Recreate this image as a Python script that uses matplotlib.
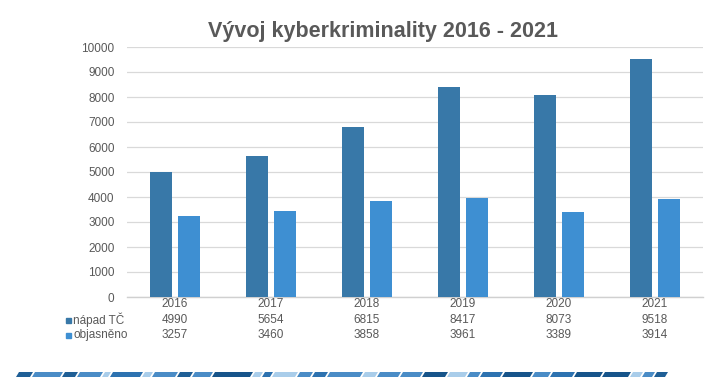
import matplotlib
matplotlib.use("Agg")
import matplotlib.pyplot as plt
from matplotlib.patches import Polygon
import numpy as np

plt.rcParams['font.family'] = ['Liberation Sans', 'DejaVu Sans']

title = "Vývoj kyberkriminality 2016 - 2021"
years = ["2016", "2017", "2018", "2019", "2020", "2021"]
napad = [4990, 5654, 6815, 8417, 8073, 9518]
objasneno = [3257, 3460, 3858, 3961, 3389, 3914]
series_names = ["nápad TČ", "objasněno"]
colors = ["#3878a8", "#3e8fd2"]
text_color = "#595959"

W, H = 720, 391
fig = plt.figure(figsize=(W / 100, H / 100), dpi=100)
fig.patch.set_facecolor("white")

def fx(px):
    return px / W

def fy(py):
    return 1 - py / H

ax_l, ax_r, ax_t, ax_b = 127, 703, 47, 297
ax = fig.add_axes([fx(ax_l), fy(ax_b), (ax_r - ax_l) / W, (ax_b - ax_t) / H])

x = np.arange(len(years))
bw = 0.225
gap = 0.065
ax.bar(x - (bw + gap) / 2, napad, width=bw, color=colors[0], zorder=3)
ax.bar(x + (bw + gap) / 2, objasneno, width=bw, color=colors[1], zorder=3)

ax.set_xlim(-0.5, len(years) - 0.5)
ax.set_ylim(0, 10000)
ax.set_yticks(range(0, 10001, 1000))
ax.set_yticklabels([str(v) for v in range(0, 10001, 1000)], color=text_color, fontsize=8.5)
ax.tick_params(axis="y", length=0, pad=9)
ax.set_xticks([])
ax.grid(axis="y", color="#d9d9d9", linewidth=0.9, zorder=0)
for s in ["top", "right", "left"]:
    ax.spines[s].set_visible(False)
ax.spines["bottom"].set_color("#d0d0d0")
ax.spines["bottom"].set_linewidth(1.0)

# data table under axes
trans = ax.get_xaxis_transform()
row_y = [304, 320, 335]
for i, yr in enumerate(years):
    ax.text(i, fy(row_y[0]), yr, transform=matplotlib.transforms.blended_transform_factory(ax.transData, fig.transFigure),
            ha="center", va="center", fontsize=8.5, color=text_color)
    ax.text(i, fy(row_y[1]), str(napad[i]), transform=matplotlib.transforms.blended_transform_factory(ax.transData, fig.transFigure),
            ha="center", va="center", fontsize=8.5, color=text_color)
    ax.text(i, fy(row_y[2]), str(objasneno[i]), transform=matplotlib.transforms.blended_transform_factory(ax.transData, fig.transFigure),
            ha="center", va="center", fontsize=8.5, color=text_color)

for j, name in enumerate(series_names):
    yy = row_y[j + 1]
    fig.patches.append(plt.Rectangle((fx(66), fy(yy + 2.5)), 5 / W, 5 / H, transform=fig.transFigure,
                                     color=colors[j], figure=fig))
    fig.text(fx(73), fy(yy), name, ha="left", va="center", fontsize=8.5, color=text_color)

fig.text(fx(383), fy(31), title, ha="center", va="center", fontsize=15.5, fontweight="bold", color=text_color)

# decorative stripe at bottom
stripe_cols = ["#1f5f96", "#4a8cc6", "#a9cdea", "#2d72b0", "#16548a", "#6fa8d8"]
segs = [(16, 30, 0), (32, 60, 1), (62, 75, 0), (77, 100, 1), (102, 108, 2), (110, 140, 3),
        (142, 150, 2), (152, 175, 1), (177, 190, 0), (192, 210, 1), (212, 250, 4), (252, 260, 2),
        (262, 270, 3), (272, 295, 2), (297, 310, 1), (312, 325, 3), (327, 360, 1), (362, 375, 2),
        (377, 398, 1), (400, 420, 1), (422, 445, 4), (447, 465, 2), (467, 478, 1), (480, 500, 3),
        (502, 530, 4), (532, 548, 1), (550, 572, 3), (574, 600, 4), (602, 628, 4), (630, 640, 2),
        (642, 652, 1), (654, 665, 0)]
y0, y1 = 377, 372
sl = 3
for a, b, c in segs:
    poly = Polygon([(fx(a), fy(y0)), (fx(b), fy(y0)), (fx(b + sl), fy(y1)), (fx(a + sl), fy(y1))],
                   closed=True, transform=fig.transFigure, color=stripe_cols[c], linewidth=0)
    fig.patches.append(poly)

fig.savefig("out.png", dpi=100, facecolor="white")
